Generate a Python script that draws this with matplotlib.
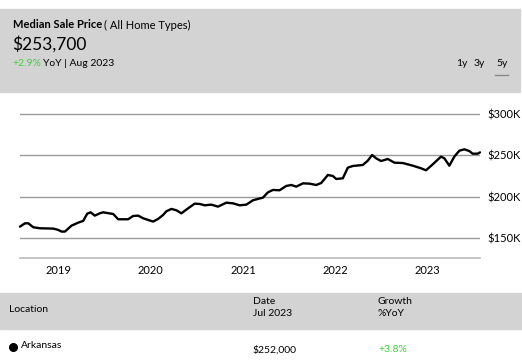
import matplotlib
matplotlib.use("Agg")
import matplotlib.pyplot as plt
from matplotlib.patches import Rectangle

plt.rcParams["font.family"] = ["Lato", "DejaVu Sans"]

# decimal years and median sale price in $K
years = [
    2018.586, 2018.640, 2018.676, 2018.730, 2018.802, 2018.946, 2019.000, 2019.036,
    2019.072, 2019.144, 2019.216, 2019.270, 2019.314, 2019.350, 2019.396, 2019.450,
    2019.486, 2019.595, 2019.649, 2019.757, 2019.811, 2019.865, 2019.919, 2020.027,
    2020.081, 2020.135, 2020.171, 2020.225, 2020.279, 2020.333, 2020.387, 2020.477,
    2020.532, 2020.586, 2020.658, 2020.730, 2020.820, 2020.892, 2020.964, 2021.036,
    2021.108, 2021.216, 2021.270, 2021.324, 2021.396, 2021.468, 2021.523, 2021.577,
    2021.649, 2021.721, 2021.793, 2021.847, 2021.919, 2021.973, 2022.009, 2022.081,
    2022.135, 2022.189, 2022.297, 2022.351, 2022.398, 2022.441, 2022.495, 2022.568,
    2022.640, 2022.730, 2022.838, 2022.928, 2022.982, 2023.054, 2023.144, 2023.180,
    2023.234, 2023.288, 2023.342, 2023.396, 2023.450, 2023.486, 2023.541, 2023.566,
]
price_k = [
    163.7, 167.7, 167.7, 162.9, 161.7, 161.3, 159.7, 157.7,
    157.7, 164.9, 168.5, 170.6, 179.4, 181.0, 177.0, 179.8,
    181.0, 179.0, 172.6, 172.6, 176.6, 177.0, 173.8, 169.8,
    173.0, 177.8, 182.3, 185.1, 183.5, 179.8, 184.3, 191.5,
    191.1, 189.5, 190.3, 187.9, 192.7, 191.9, 189.5, 190.3,
    195.6, 198.8, 205.2, 208.1, 207.7, 212.9, 214.1, 212.1,
    216.1, 215.7, 214.1, 216.5, 226.2, 225.0, 221.4, 222.2,
    235.1, 237.1, 238.3, 243.5, 250.4, 246.4, 243.1, 245.6,
    241.1, 240.7, 237.5, 234.3, 231.9, 239.1, 248.4, 246.4,
    237.5, 248.4, 255.6, 257.3, 255.2, 252.0, 252.0, 253.6,
]
year_ticks = [2019, 2020, 2021, 2022, 2023]
grid_vals = [150, 200, 250, 300]
grid_labels = ["$150K", "$200K", "$250K", "$300K"]

GREEN = "#3fd23f"
GRAY_BG = "#d3d3d3"

W, H = 522, 361
fig = plt.figure(figsize=(W / 100, H / 100), dpi=100)
renderer = fig.canvas.get_renderer()


def fx(px):
    return px / W


def fy(py):
    return 1 - py / H


def after(txt, gap=0):
    # x (figure fraction) just right of an existing text
    bb = txt.get_window_extent(renderer=renderer)
    return (bb.x1 + gap) / W


# header band
fig.patches.append(Rectangle((0, fy(92)), fx(520), fy(9) - fy(92),
                             transform=fig.transFigure, color=GRAY_BG, zorder=0))
t = fig.text(fx(13), fy(25), "Median Sale Price", fontsize=8, fontweight="bold", va="center")
fig.text(after(t, 2), fy(25), "( All Home Types)", fontsize=8, va="center")
fig.text(fx(12), fy(44), "$253,700", fontsize=12.5, va="center")
t = fig.text(fx(12), fy(63), "+2.9%", fontsize=7.5, color=GREEN, va="center")
fig.text(after(t, 2), fy(63), "YoY | Aug 2023", fontsize=7.5, va="center")
for xp, lab in [(456, "1y"), (474, "3y"), (496, "5y")]:
    fig.text(fx(xp), fy(63), lab, fontsize=7.5, va="center")
fig.lines.append(plt.Line2D([fx(495), fx(508)], [fy(75), fy(75)],
                            transform=fig.transFigure, color="#888888", lw=1))

# chart
ax = fig.add_axes([fx(20), fy(258), fx(480) - fx(20), fy(100) - fy(258)])
ax.set_xlim(years[0], years[-1])
ax.set_ylim(125.7, 317)
for v in grid_vals:
    ax.axhline(v, color="#999999", lw=1, zorder=1)
ax.plot(years, price_k, color="black", lw=1.7, solid_joinstyle="round",
        solid_capstyle="round", zorder=3, clip_on=False)
for s in ["top", "left", "right"]:
    ax.spines[s].set_visible(False)
ax.spines["bottom"].set_color("#bbbbbb")
ax.spines["bottom"].set_linewidth(1.2)
ax.set_xticks(year_ticks)
ax.set_xticklabels([str(y) for y in year_ticks], fontsize=8)
ax.tick_params(axis="x", length=0, pad=5)
ax.yaxis.tick_right()
ax.set_yticks(grid_vals)
ax.set_yticklabels(grid_labels, fontsize=8)
ax.tick_params(axis="y", length=0, pad=5)

# table
fig.patches.append(Rectangle((0, fy(329)), fx(522), fy(293) - fy(329),
                             transform=fig.transFigure, color=GRAY_BG, zorder=0))
fig.text(fx(9), fy(310), "Location", fontsize=7.5, va="center")
fig.text(fx(253), fy(302), "Date", fontsize=7.5, va="center")
fig.text(fx(253), fy(314), "Jul 2023", fontsize=7.5, va="center")
fig.text(fx(378), fy(301), "Growth", fontsize=7.5, va="center")
fig.text(fx(378), fy(313), "%YoY", fontsize=7.5, va="center")
fig.lines.append(plt.Line2D([fx(13)], [fy(346.5)], transform=fig.transFigure,
                            marker="o", markersize=5.5, color="black", lw=0))
fig.text(fx(21), fy(346), "Arkansas", fontsize=7.5, va="center")
fig.text(fx(253), fy(350), "$252,000", fontsize=7.5, va="center")
fig.text(fx(378), fy(350), "+3.8%", fontsize=7.5, color=GREEN, va="center")

fig.savefig("out.png", dpi=100)
